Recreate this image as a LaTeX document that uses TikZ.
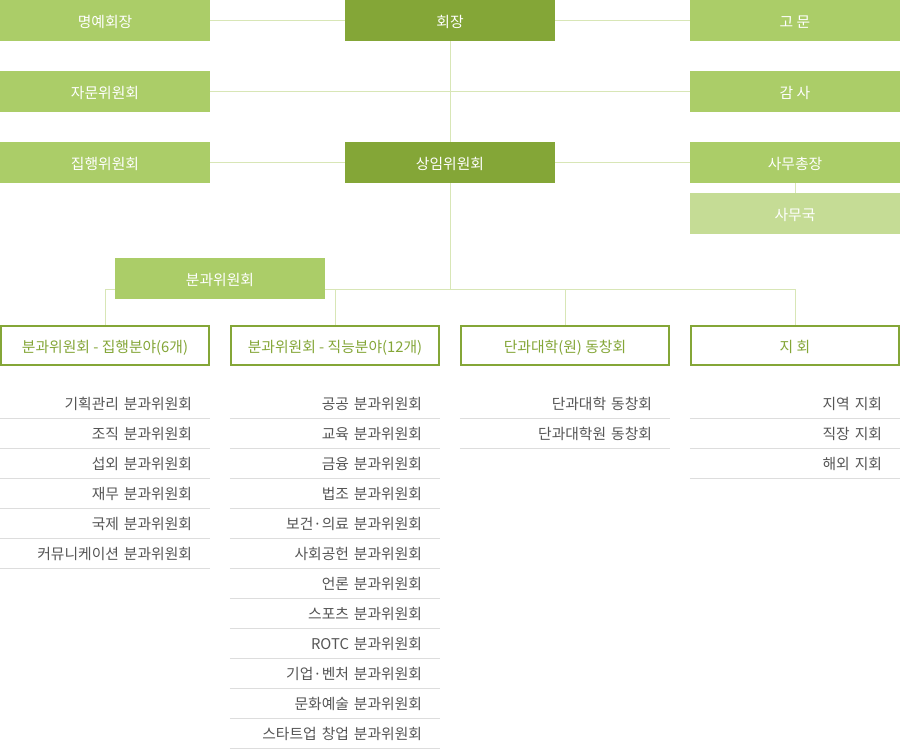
\documentclass[tikz,border=0pt]{standalone}
\usepackage{fontspec}
\setmainfont{Noto Sans CJK KR}
\usetikzlibrary{positioning,backgrounds}

\definecolor{deepgreen}{HTML}{84A637}
\definecolor{midgreen}{HTML}{ABCD68}
\definecolor{palegreen}{HTML}{C5DC95}
\definecolor{linkgreen}{HTML}{D8E6B6}
\definecolor{listgray}{HTML}{555555}
\definecolor{rulegray}{HTML}{DDDDDD}

\begin{document}
\begin{tikzpicture}[x=1pt,y=-1pt,
	box/.style={minimum width=210pt,minimum height=41pt,inner sep=0pt,text=white,
		text height=13.5pt,text depth=0.5pt,font=\fontsize{14.8}{17}\selectfont},
	head/.style={box,fill=deepgreen},
	mid/.style={box,fill=midgreen},
	pale/.style={box,fill=palegreen},
	field/.style={box,draw=deepgreen,line width=2pt,minimum width=208pt,minimum height=39pt,
		fill=white,text=deepgreen},
	link/.style={draw=linkgreen,line width=1pt},
	row/.style={text width=174pt,align=right,inner xsep=18pt,inner ysep=0pt,minimum height=30pt,
		text height=14pt,text depth=0.5pt,text=listgray,font=\fontsize{14.8}{17}\selectfont},
	rule/.style={draw=rulegray,line width=1pt}]
%
	\useasboundingbox (0,0) rectangle (900,750);
%
	\node[mid]  (honorary) at (105,20.5) {명예회장};
	\node[head] (chair)    at (450,20.5) {회장};
	\node[mid]  (advisor)  at (795,20.5) {고 문};
	\node[mid]  (consult)  at (105,91.5) {자문위원회};
	\node[mid]  (audit)    at (795,91.5) {감 사};
	\node[mid]  (exec)     at (105,162.5) {집행위원회};
	\node[head] (standing) at (450,162.5) {상임위원회};
	\node[mid]  (secgen)   at (795,162.5) {사무총장};
	\node[pale] (office)   at (795,213.5) {사무국};
	\node[mid]  (subcom)   at (220,278.5) {분과위원회};
%
	\node[field] (fieldA) at (105,345.5) {분과위원회 - 집행분야(6개)};
	\node[field] (fieldB) at (335,345.5) {분과위원회 - 직능분야(12개)};
	\node[field] (fieldC) at (565,345.5) {단과대학(원) 동창회};
	\node[field] (fieldD) at (795,345.5) {지 회};
	\coordinate (bus) at (450,289);
%
	\begin{scope}[on background layer]
	\draw[link] (honorary) -- (chair);
	\draw[link] (chair) -- (advisor);
	\draw[link] (consult) -- (audit);
	\draw[link] (exec) -- (standing);
	\draw[link] (standing) -- (secgen);
	\draw[link] (secgen) -- (office);
	\draw[link] (chair) -- (standing);
	\draw[link] (standing) -- (bus);
	\draw[link] (fieldA.north) -- (fieldA.north |- bus) -| (fieldD.north);
	\draw[link] (fieldB.north) -- (fieldB.north |- bus);
	\draw[link] (fieldC.north) -- (fieldC.north |- bus);
	\end{scope}
%
	\foreach \txt [count=\i from 0] in {기획관리 분과위원회,조직 분과위원회,섭외 분과위원회,
		재무 분과위원회,국제 분과위원회,커뮤니케이션 분과위원회}
	{
		\node[row,anchor=north] (listA\i) at ([yshift=-22pt-30pt*\i]fieldA.south) {\txt};
		\draw[rule] (listA\i.south west) -- (listA\i.south east);
	}
	\foreach \txt [count=\i from 0] in {공공 분과위원회,교육 분과위원회,금융 분과위원회,
		법조 분과위원회,보건·의료 분과위원회,사회공헌 분과위원회,언론 분과위원회,
		스포츠 분과위원회,ROTC 분과위원회,기업·벤처 분과위원회,문화예술 분과위원회,
		스타트업 창업 분과위원회}
	{
		\node[row,anchor=north] (listB\i) at ([yshift=-22pt-30pt*\i]fieldB.south) {\txt};
		\draw[rule] (listB\i.south west) -- (listB\i.south east);
	}
	\foreach \txt [count=\i from 0] in {단과대학 동창회,단과대학원 동창회}
	{
		\node[row,anchor=north] (listC\i) at ([yshift=-22pt-30pt*\i]fieldC.south) {\txt};
		\draw[rule] (listC\i.south west) -- (listC\i.south east);
	}
	\foreach \txt [count=\i from 0] in {지역 지회,직장 지회,해외 지회}
	{
		\node[row,anchor=north] (listD\i) at ([yshift=-22pt-30pt*\i]fieldD.south) {\txt};
		\draw[rule] (listD\i.south west) -- (listD\i.south east);
	}
\end{tikzpicture}
\end{document}
